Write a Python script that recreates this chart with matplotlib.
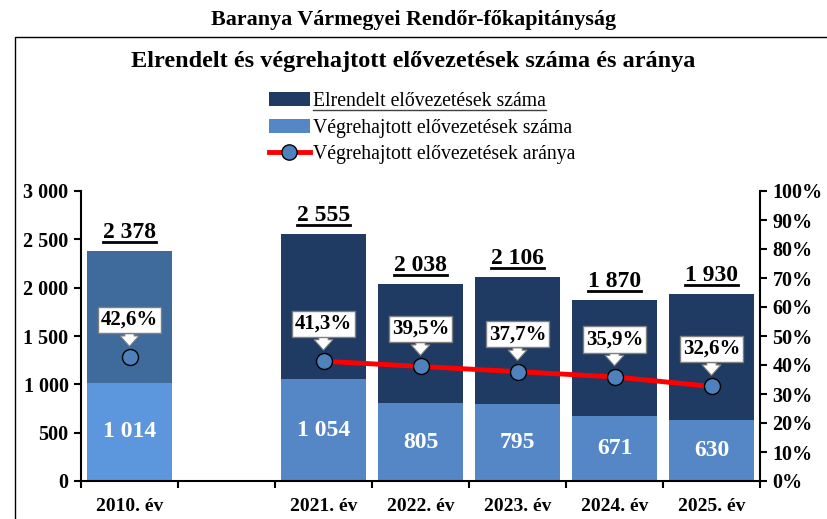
import matplotlib
matplotlib.use("Agg")
import matplotlib.pyplot as plt
from matplotlib.patches import Rectangle, Patch
from matplotlib.lines import Line2D
import numpy as np

categories = ["2010. év", "", "2021. év", "2022. év", "2023. év", "2024. év", "2025. év"]
ordered = [2378, None, 2555, 2038, 2106, 1870, 1930]
executed = [1014, None, 1054, 805, 795, 671, 630]
ratio = [42.6, None, 41.3, 39.5, 37.7, 35.9, 32.6]
ratio_labels = ["42,6%", "", "41,3%", "39,5%", "37,7%", "35,9%", "32,6%"]
total_labels = ["2 378", "", "2 555", "2 038", "2 106", "1 870", "1 930"]
exec_labels = ["1 014", "", "1 054", "805", "795", "671", "630"]

plt.rcParams['font.family'] = ['Liberation Serif', 'DejaVu Serif']
plt.rcParams['font.weight'] = 'bold'

W, H = 827, 519
fig = plt.figure(figsize=(W/100, H/100), dpi=100)
fig.patch.set_facecolor('white')

# frame box
fig.patches.append(Rectangle((15/W, -0.1), 1.0, 1 - 37/H + 0.1, transform=fig.transFigure,
                             fill=False, edgecolor='black', linewidth=1.0, zorder=0))

ax = fig.add_axes([81/W, 1 - 481/H, (760-81)/W, (481-191)/H])
ax.set_facecolor('none')
ax2 = ax.twinx()

x = np.arange(len(categories))
width = 0.87
dark = '#1F3A63'
light = '#5587C6'
dark10 = '#3F6A9C'
light10 = '#5C97DE'

total_texts = []
for i in range(len(categories)):
    if ordered[i] is None:
        continue
    top_c = dark10 if i == 0 else dark
    bot_c = light10 if i == 0 else light
    ax.bar(x[i], executed[i], width, color=bot_c, edgecolor='none', zorder=2)
    ax.bar(x[i], ordered[i] - executed[i], width, bottom=executed[i], color=top_c,
           edgecolor='none', zorder=2)
    ax.text(x[i], executed[i] / 2, exec_labels[i], ha='center', va='center', color='white',
            fontsize=17, fontweight='bold', zorder=5)
    t = ax.annotate(total_labels[i], (x[i], ordered[i]), xytext=(0, 6), textcoords='offset points',
                    ha='center', va='bottom', fontsize=17, fontweight='bold', zorder=5)
    total_texts.append(t)

ax.set_xlim(-0.5, len(categories) - 0.5)
ax.set_ylim(0, 3000)
ax.set_yticks(np.arange(0, 3001, 500))
ax.set_yticklabels([f"{v:,}".replace(",", " ") for v in range(0, 3001, 500)], fontsize=14.5, fontweight='bold')
ax.set_xticks(x)
ax.set_xticklabels(categories, fontsize=14, fontweight='bold')
ax.tick_params(axis='x', length=0, pad=12)
ax.set_xticks(np.arange(-0.5, len(categories), 1.0), minor=True)
ax.tick_params(axis='x', which='minor', length=5, width=1.5)
ax.tick_params(axis='y', length=5, width=1.5, pad=4)
ax.spines['top'].set_visible(False)
ax.spines['left'].set_linewidth(1.5)
ax.spines['bottom'].set_linewidth(1.5)
ax.spines['right'].set_visible(False)

ax2.set_ylim(0, 100)
ax2.set_yticks(np.arange(0, 101, 10))
ax2.set_yticklabels([f"{v}%" for v in range(0, 101, 10)], fontsize=14.5, fontweight='bold')
ax2.tick_params(axis='y', length=5, width=1.5, pad=4)
for s in ['top', 'left', 'bottom']:
    ax2.spines[s].set_visible(False)
ax2.spines['right'].set_linewidth(1.5)

# ratio line
line_x = [x[i] for i in range(2, len(categories))]
line_y = [ratio[i] for i in range(2, len(categories))]
ax2.plot(line_x, line_y, color='#FF0000', linewidth=3.5, zorder=3)
ax2.plot([x[0]], [ratio[0]], 'o', markersize=11.5, markerfacecolor='#4F81BD',
         markeredgecolor='black', markeredgewidth=1, zorder=4)
ax2.plot(line_x, line_y, 'o', markersize=11.5, markerfacecolor='#4F81BD',
         markeredgecolor='black', markeredgewidth=1, zorder=4)

for i in range(len(categories)):
    if ratio[i] is None:
        continue
    ax2.annotate(ratio_labels[i], (x[i], ratio[i]), xytext=(0, 27), textcoords='offset points',
                 ha='center', va='center', fontsize=15, fontweight='bold', zorder=6,
                 bbox=dict(boxstyle='square,pad=0.15', fc='white', ec='#7F7F7F', lw=1),
                 arrowprops=dict(arrowstyle='simple,head_length=0.5,head_width=0.9,tail_width=0.45',
                                 fc='white', ec='#7F7F7F', lw=0.8, shrinkA=0, shrinkB=8))

# titles
fig.text(0.5, 1 - 20/H, "Baranya Vármegyei Rendőr-főkapitányság", ha='center', va='center',
         fontsize=15.8, fontweight='bold')
fig.text(0.5, 1 - 62/H, "Elrendelt és végrehajtott elővezetések száma és aránya", ha='center',
         va='center', fontsize=17.5, fontweight='bold')

handles = [Patch(facecolor=dark, edgecolor='none'),
           Patch(facecolor=light, edgecolor='none'),
           Line2D([], [], color='#FF0000', linewidth=3.5, marker='o', markersize=11,
                  markerfacecolor='#4F81BD', markeredgecolor='black')]
labels = ["Elrendelt elővezetések száma", "Végrehajtott elővezetések száma",
          "Végrehajtott elővezetések aránya"]
leg = fig.legend(handles, labels, loc='center', bbox_to_anchor=(422/W, 1 - 128/H), frameon=False,
                 prop={'family': 'Liberation Serif', 'weight': 'normal', 'size': 14.2},
                 handlelength=2.1, handleheight=0.7, handletextpad=0.15, labelspacing=0.4,
                 borderpad=0)

fig.canvas.draw()
renderer = fig.canvas.get_renderer()
# underlines for total labels
for t in total_texts:
    bb = t.get_window_extent(renderer)
    fig.add_artist(Line2D([bb.x0 / W, bb.x1 / W], [(bb.y0 + 1) / H] * 2,
                          transform=fig.transFigure, color='black', linewidth=2))
# underline first legend entry
lt = leg.get_texts()[0]
bb = lt.get_window_extent(renderer)
fig.add_artist(Line2D([bb.x0 / W, bb.x1 / W], [(bb.y0 + 1) / H] * 2,
                      transform=fig.transFigure, color='#404040', linewidth=1))

fig.savefig("out.png", dpi=100)
